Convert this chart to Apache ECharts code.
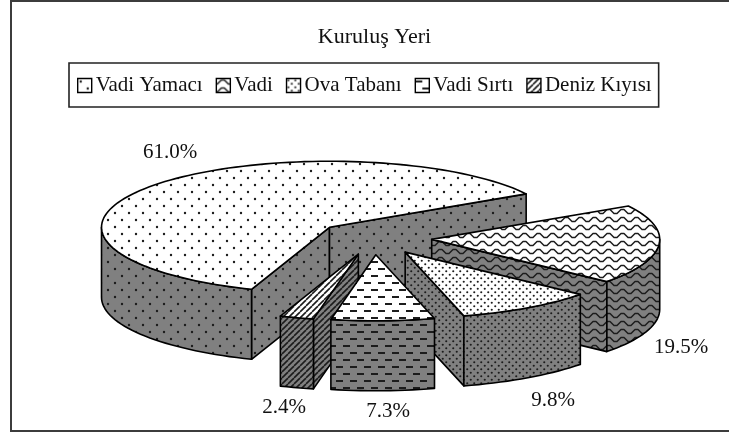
<!DOCTYPE html>
<html><head><meta charset="utf-8">
<style>html,body{margin:0;padding:0;background:#fff}#c{width:729px;height:432px}</style>
<script src="https://cdn.jsdelivr.net/npm/echarts@6/dist/echarts.min.js"></script>
</head><body><div id="c"></div>
<script>
const chartTitle = 'Kuruluş Yeri';
const categories = ['Vadi Yamacı', 'Vadi', 'Ova Tabanı', 'Vadi Sırtı', 'Deniz Kıyısı'];
const values = [61.0, 19.5, 9.8, 7.3, 2.4];
const valueLabels = ['61.0%', '19.5%', '9.8%', '7.3%', '2.4%'];

// layout, separate from the data
const FIRST_ANGLE = 200, CX = 374, CY = 238, RX = 228, RY = 66, DEPTH = 70, EXPLODE = 0.254;
const GRAY = '#808080', INK = '#1c1c1c';
const labelXY = [[170, 152], [681, 347], [553, 400], [388, 411], [284, 407]];
const paintOrder = [1, 2, 3, 5, 4];

function tile(w, h, bg, draw) {
  const c = document.createElement('canvas');
  c.width = w; c.height = h;
  const g = c.getContext('2d');
  g.fillStyle = bg; g.fillRect(0, 0, w, h);
  g.fillStyle = INK; g.strokeStyle = INK;
  draw(g);
  return { image: c, repeat: 'repeat' };
}
const dot = (g, x, y, r) => { g.beginPath(); g.arc(x, y, r, 0, 7); g.fill(); };
const painters = [
  g => { dot(g, 3, 3, 1.2); dot(g, 10, 10, 1.2); },
  g => { g.lineWidth = 1.5; g.lineJoin = 'round'; g.beginPath();
         g.moveTo(-5, 1.5); g.lineTo(-2, 5.5); g.lineTo(1, 5.5); g.lineTo(5, 1.5); g.lineTo(8, 1.5);
         g.lineTo(12, 5.5); g.lineTo(15, 5.5); g.lineTo(19, 1.5); g.stroke(); },
  g => { dot(g, 1.75, 1.75, 1.05); dot(g, 5.25, 5.25, 1.05); },
  g => { g.fillRect(0, 2, 7, 2); g.fillRect(7, 9, 7, 2); },
  g => { g.lineWidth = 1.6; for (let i = -6; i <= 6; i += 6) { g.beginPath(); g.moveTo(i, 6); g.lineTo(i + 6, 0); g.stroke(); } }
];
const tileSize = [[14, 14], [14, 8], [7, 7], [14, 14], [6, 6]];
const topFill = painters.map((p, i) => tile(tileSize[i][0], tileSize[i][1], '#fff', p));
const sideFill = painters.map((p, i) => tile(tileSize[i][0], tileSize[i][1], GRAY, p));

const total = values.reduce((a, b) => a + b, 0);
const spans = [];
values.reduce((from, v) => { const to = from + v / total * 360; spans.push([from, to]); return to; }, FIRST_ANGLE);

const rad = d => d * Math.PI / 180;
function ellipsePt(c, a) { return [c[0] + RX * Math.sin(rad(a)), c[1] - RY * Math.cos(rad(a))]; }
function arc(c, a, b) {
  const n = Math.max(2, Math.ceil(Math.abs(b - a) / 2)), out = [];
  for (let i = 0; i <= n; i++) out.push(ellipsePt(c, a + (b - a) * i / n));
  return out;
}
const down = p => [p[0], p[1] + DEPTH];

function renderSlice(idx, api) {
  const [a, b] = spans[idx];
  const mid = (a + b) / 2;
  const c = [CX + EXPLODE * RX * Math.sin(rad(mid)), CY - EXPLODE * RY * Math.cos(rad(mid))];
  const stroke = { stroke: '#000', lineWidth: 1.6, lineJoin: 'round' };
  const kids = [];
  const poly = (pts, fill) => kids.push({ type: 'polygon', shape: { points: pts }, style: Object.assign({ fill }, stroke) });
  const face = ang => { const p = ellipsePt(c, ang); poly([c, p, down(p), down(c)], sideFill[idx]); };
  if (Math.sin(rad(a)) < 0) face(a);
  if (Math.sin(rad(b)) > 0) face(b);
  for (const base of [0, 360]) {
    const lo = Math.max(a, base + 90), hi = Math.min(b, base + 270);
    if (hi > lo) {
      const rim = arc(c, lo, hi);
      poly(rim.concat(rim.map(down).reverse()), sideFill[idx]);
    }
  }
  poly([c].concat(arc(c, a, b)), topFill[idx]);
  kids.push({ type: 'text', style: { x: labelXY[idx][0], y: labelXY[idx][1], text: valueLabels[idx],
    font: '21px "Liberation Serif"', fill: '#111', align: 'center', verticalAlign: 'middle' } });
  return { type: 'group', children: kids };
}

const chart = echarts.init(document.getElementById('c'), null, { renderer: 'canvas' });
chart.setOption({
  animation: false,
  backgroundColor: '#fff',
  title: { text: chartTitle, left: 374.5, top: 26, padding: 0, textAlign: 'center',
    textStyle: { fontFamily: 'Liberation Serif', fontSize: 22, fontWeight: 'normal', color: '#111' } },
  legend: {
    left: 69, top: 63, orient: 'horizontal', padding: [12, 7, 11, 8], itemGap: 13, itemWidth: 14, itemHeight: 14,
    borderColor: '#222', borderWidth: 1.6, selectedMode: false,
    textStyle: { fontFamily: 'Liberation Serif', fontSize: 21, color: '#111', padding: [0, 0, 0, -1] },
    data: categories.map((name, i) => ({ name, icon: 'rect',
      itemStyle: { color: topFill[i], borderColor: '#000', borderWidth: 1.4 } }))
  },
  graphic: [{ type: 'polyline', silent: true, z: -1,
    shape: { points: [[729, 1], [11, 1], [11, 431], [729, 431]] },
    style: { fill: 'none', stroke: '#3c3c3c', lineWidth: 2 } }],
  series: categories.map((name, i) => ({
    type: 'custom', name, coordinateSystem: 'none', z: 2 + paintOrder[i], silent: true,
    data: [[values[i]]],
    itemStyle: { color: '#fff' },
    renderItem: (params, api) => renderSlice(i, api)
  }))
});
</script></body></html>
